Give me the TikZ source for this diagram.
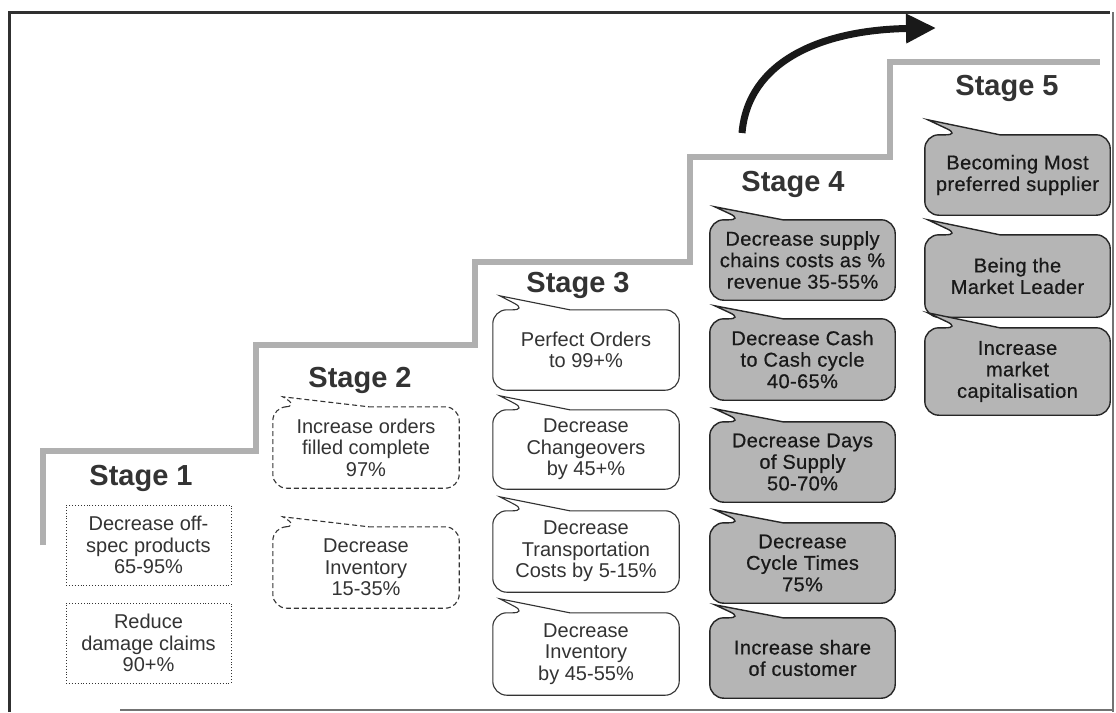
\documentclass[tikz,border=0pt]{standalone}
\usepackage{fontspec}
\setmainfont{Liberation Sans}
\newfontfamily\heavysans[FakeBold=0.6,LetterSpace=2]{Liberation Sans}
\usetikzlibrary{calc,arrows.meta}
\definecolor{txt}{HTML}{333333}
\definecolor{stair}{HTML}{B0B0B0}
\definecolor{boxfill}{HTML}{B5B5B5}
\definecolor{framec}{HTML}{303030}
% #1 style, #2 node, #3 apex dx, #4 apex dy, #5 base1 dx, #6 base2 dx
\newcommand\calloutoutline[6]{%
  \draw[#1] ($(#2.north west)+(#6,0)$) [rounded corners=14pt]
    -- (#2.north east) -- (#2.south east) -- (#2.south west) -- (#2.north west)
    -- ($(#2.north west)+(#5,0)$) [sharp corners]
    -- ($(#2.north west)+(#3,#4)$) -- cycle;}
\begin{document}
\begin{tikzpicture}[x=1pt,y=-1pt,
  stagelabel/.style={font=\fontsize{29}{32}\selectfont\bfseries, text=txt},
  txtbox/.style={align=center, inner sep=0pt, text=txt,
     font=\fontsize{20}{21.5}\selectfont},
  s1box/.style={txtbox, minimum width=165pt, minimum height=80pt},
  s2box/.style={txtbox, minimum width=186pt, minimum height=81pt},
  s3box/.style={txtbox, minimum width=186pt},
  s4box/.style={txtbox, minimum width=185pt, text=black!90,
     font=\heavysans\fontsize{20}{21.5}\selectfont},
  dottedline/.style={draw=txt, line width=0.9pt, dotted},
  dashedout/.style={draw=txt, line width=1.1pt, dash pattern=on 5pt off 3pt},
  solidout/.style={draw=txt, line width=1.1pt, fill=white},
  grayout/.style={draw=black!85, line width=1.4pt, fill=boxfill},
]
\useasboundingbox (0,0) rectangle (1116,712);
\fill[white] (0,0) rectangle (1116,712);
% frame
\draw[framec, line width=3pt] (9.5,712) -- (9.5,12) -- (1110,12);
\draw[black!55, line width=1.2pt] (1113,12) -- (1113,712);
\draw[black!55, line width=1.2pt] (120,710) -- (1113,710);
% staircase
\draw[stair, line width=6pt, line join=miter]
  (42.5,545) -- (42.5,451) -- (256,451) -- (256,345) -- (475,345) -- (475,262)
  -- (690,262) -- (690,157) -- (890,157) -- (890,62) -- (1100,62);
% arrow
\coordinate (arrS) at (742,133);
\coordinate (arrE) at (936,28);
\draw[black!90, line width=7pt, -{Triangle[length=30pt,width=28pt]}]
  (arrS) .. controls (748,62) and (820,30) .. (arrE);
% stage labels
\node[stagelabel] (s1) at (141,478) {Stage 1};
\node[stagelabel] (s2) at (360,380) {Stage 2};
\node[stagelabel] (s3) at (578,285) {Stage 3};
\node[stagelabel] (s4) at (793,184) {Stage 4};
\node[stagelabel] (s5) at (1007,88) {Stage 5};
% stage 1
\node[s1box, dottedline] (a1) at (148.5,545) {Decrease off-\\spec products\\65-95\%};
\node[s1box, dottedline] (a2) at (148.5,643) {Reduce\\damage claims\\90+\%};
% stage 2
\node[s2box] (b1) at (366,447.5) {};
\calloutoutline{dashedout}{b1}{10}{-10}{26}{96}
\node[s2box] at (b1) {Increase orders\\filled complete\\97\%};
\node[s2box] (b2) at (366,567.5) {};
\calloutoutline{dashedout}{b2}{10}{-10}{26}{96}
\node[s2box] at (b2) {Decrease\\Inventory\\15-35\%};
% stage 3
\node[s3box, minimum height=80pt] (c1) at (586,350) {};
\node[s3box, minimum height=79pt] (c2) at (586,449.5) {};
\node[s3box, minimum height=81pt] (c3) at (586,551.5) {};
\node[s3box, minimum height=82pt] (c4) at (586,654) {};
\foreach \n in {c1,c2,c3,c4}{\calloutoutline{solidout}{\n}{7}{-14}{34}{77}}
\node[txtbox] at (c1) {Perfect Orders\\to 99+\%};
\node[txtbox] at (c2) {Decrease\\Changeovers\\by 45+\%};
\node[txtbox] at (c3) {Decrease\\Transportation\\Costs by 5-15\%};
\node[txtbox] at (c4) {Decrease\\Inventory\\by 45-55\%};
% stage 4
\node[s4box, minimum height=80pt] (d1) at (802.5,260) {};
\node[s4box, minimum height=81pt] (d2) at (802.5,359.5) {};
\node[s4box, minimum height=80pt] (d3) at (802.5,462) {};
\node[s4box, minimum height=80pt] (d4) at (802.5,563) {};
\node[s4box, minimum height=80pt] (d5) at (802.5,658) {};
\foreach \n in {d1,d2,d3,d4,d5}{\calloutoutline{grayout}{\n}{5}{-13}{33}{73}}
\node[s4box] at (d1) {Decrease supply\\chains costs as \%\\revenue 35-55\%};
\node[s4box] at (d2) {Decrease Cash\\to Cash cycle\\40-65\%};
\node[s4box] at (d3) {Decrease Days\\of Supply\\50-70\%};
\node[s4box] at (d4) {Decrease\\Cycle Times\\75\%};
\node[s4box] at (d5) {Increase share\\of customer};
% stage 5
\node[s4box, minimum height=80pt] (e1) at (1017.5,175) {};
\node[s4box, minimum height=82pt] (e2) at (1017.5,276) {};
\node[s4box, minimum height=87pt] (e3) at (1017.5,371.5) {};
\foreach \n in {e1,e2,e3}{\calloutoutline{grayout}{\n}{3}{-15}{35}{75}}
\node[s4box] at (e1) {Becoming Most\\preferred supplier};
\node[s4box] at (e2) {Being the\\Market Leader};
\node[s4box] at (e3) {Increase\\market\\capitalisation};
\end{tikzpicture}
\end{document}
